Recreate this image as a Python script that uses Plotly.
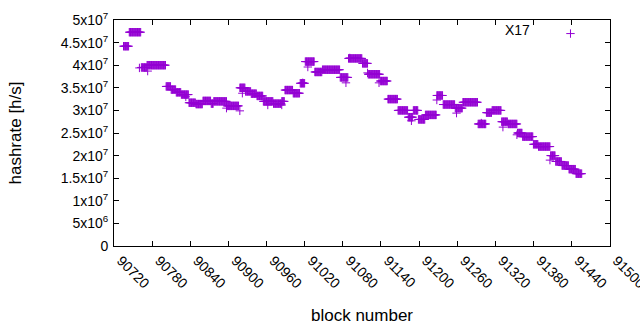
import plotly.graph_objects as go

# Runs of blocks with the same hashrate estimate (values in units of 1e7 h/s)
run_start = [90735, 90744, 90763, 90772, 90802, 90810, 90818, 90826, 90838, 90849,
             90860, 90873, 90877, 90898, 90918, 90927, 90936, 90945, 90955, 90971,
             90984, 90989, 91002, 91013, 91021, 91036, 91048, 91076, 91089, 91111,
             91120, 91139, 91151, 91167, 91183, 91191, 91199, 91210, 91228, 91238,
             91257, 91269, 91293, 91306, 91315, 91330, 91340, 91355, 91363, 91380,
             91388, 91407, 91415, 91425, 91436, 91447]
run_end = [90743, 90762, 90771, 90801, 90809, 90817, 90825, 90837, 90848, 90859,
           90872, 90876, 90897, 90916, 90926, 90935, 90944, 90954, 90970, 90983,
           90988, 91001, 91012, 91020, 91035, 91047, 91075, 91088, 91110, 91119,
           91138, 91150, 91166, 91182, 91190, 91198, 91209, 91227, 91237, 91256,
           91268, 91292, 91305, 91314, 91329, 91339, 91354, 91362, 91379, 91387,
           91406, 91414, 91424, 91435, 91446, 91456]
run_value = [4.42, 4.73, 3.95, 4.00, 3.53, 3.46, 3.40, 3.35, 3.17, 3.14,
             3.21, 3.15, 3.20, 3.10, 3.50, 3.42, 3.37, 3.32, 3.20, 3.15,
             3.20, 3.45, 3.38, 3.60, 4.08, 3.85, 3.90, 3.73, 4.15, 4.04,
             3.80, 3.65, 3.25, 3.00, 2.85, 3.00, 2.80, 2.90, 3.33, 3.13,
             3.05, 3.18, 2.70, 2.95, 3.00, 2.75, 2.70, 2.50, 2.42, 2.25,
             2.20, 2.00, 1.87, 1.78, 1.70, 1.60]

# Isolated outlier blocks
stray_block = [90760, 90773, 90833, 90897, 90918, 90922, 90962, 90984, 91017, 91025,
               91085, 91091, 91119, 91137, 91188, 91228, 91259, 91298, 91332, 91354, 91406]
stray_value = [3.94, 3.87, 3.30, 3.05, 2.99, 3.38, 3.12, 3.12, 3.61, 3.96,
               3.61, 4.16, 3.83, 3.61, 2.77, 3.23, 2.94, 2.72, 2.63, 2.46, 1.90]

x_ticks = list(range(90720, 91501, 60))
y_ticks = [0, 5e6, 1e7, 1.5e7, 2e7, 2.5e7, 3e7, 3.5e7, 4e7, 4.5e7, 5e7]
y_tick_text = ["0", "5x10<sup>6</sup>", "1x10<sup>7</sup>", "1.5x10<sup>7</sup>",
               "2x10<sup>7</sup>", "2.5x10<sup>7</sup>", "3x10<sup>7</sup>",
               "3.5x10<sup>7</sup>", "4x10<sup>7</sup>", "4.5x10<sup>7</sup>",
               "5x10<sup>7</sup>"]

blocks, rates = [], []
for s, e, v in zip(run_start, run_end, run_value):
    for b in range(s, e + 1):
        blocks.append(b)
        rates.append(v * 1e7)
for b, v in zip(stray_block, stray_value):
    blocks.append(b)
    rates.append(v * 1e7)

color = "#9400D3"
FONT = "Liberation Sans, Arial, sans-serif"

fig = go.Figure()
fig.add_trace(go.Scatter(
    x=blocks, y=rates, mode="markers", name=" ",
    marker=dict(symbol="cross-thin", size=6, color=color,
                line=dict(color=color, width=1)),
))

fig.update_layout(
    width=640, height=330,
    margin=dict(l=114, r=30, t=20, b=84, autoexpand=False),
    paper_bgcolor="white", plot_bgcolor="white",
    font=dict(family=FONT, size=14, color="black"),
    showlegend=True,
    legend=dict(x=0.88, y=1.009, xanchor="left", yanchor="top",
                bgcolor="rgba(0,0,0,0)", font=dict(size=14), itemwidth=30),
    annotations=[dict(text="X17", xref="paper", yref="paper", x=0.843, y=0.954,
                      xanchor="right", yanchor="middle", showarrow=False,
                      font=dict(size=14))],
)
fig.update_xaxes(
    range=[90720, 91500.5], tickvals=x_ticks, ticktext=[str(t) for t in x_ticks],
    tickangle=45, ticks="inside", ticklen=5, tickcolor="black",
    showline=True, linecolor="black", linewidth=1, mirror="ticks",
    showgrid=False, zeroline=False, automargin=False,
    ticklabeloverflow="allow", ticklabelshift=7, ticklabelstandoff=0,
    title=dict(text="block number", standoff=18),
)
fig.update_yaxes(
    range=[0, 5e7], tickvals=y_ticks, ticktext=y_tick_text,
    ticks="inside", ticklen=5, tickcolor="black",
    showline=True, linecolor="black", linewidth=1, mirror="ticks",
    showgrid=False, zeroline=False, ticklabelstandoff=2, automargin=False,
    title=dict(text="hashrate [h/s]", standoff=34),
)

fig.write_html("out.html", config={"displayModeBar": False},
               post_script="document.body.style.margin='0';")
